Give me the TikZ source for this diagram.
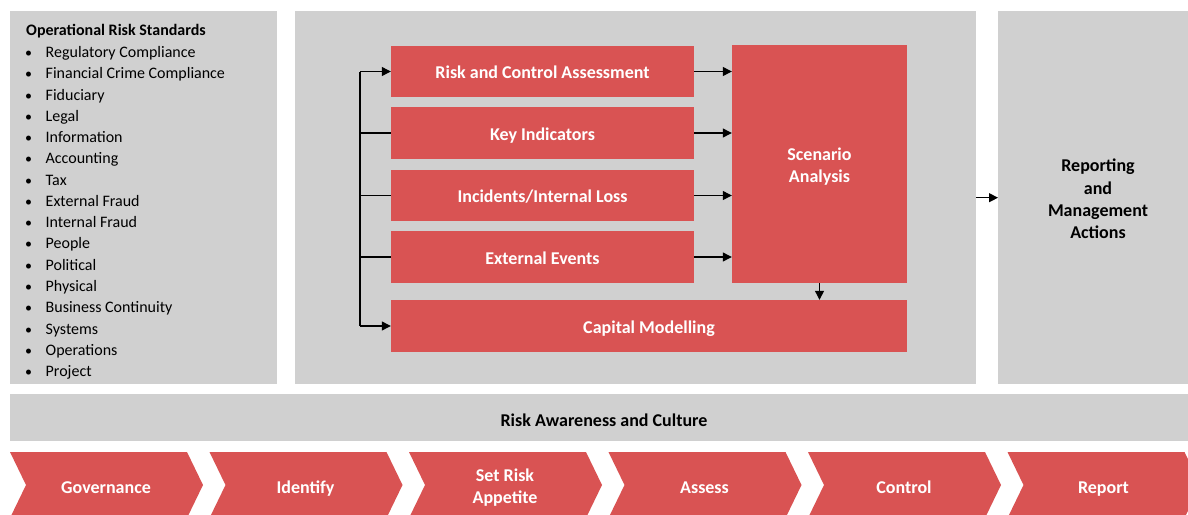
\documentclass[tikz,border=0pt]{standalone}
\usepackage{fontspec}
\setmainfont{Carlito}
\usetikzlibrary{arrows.meta}
\definecolor{rk}{RGB}{217,83,83}
\definecolor{pg}{RGB}{208,208,208}
\begin{document}
\begin{tikzpicture}[x=1pt,y=-1pt,
  panel/.style={fill=pg, draw=none, inner sep=0pt, anchor=north west},
  rbox/.style={fill=rk, text=white, inner sep=0pt, font=\bfseries\fontsize{18}{22}\selectfont, align=center},
  oneline/.style={text height=14.5pt, text depth=0.5pt},
  wtext/.style={text=white, inner sep=0pt, font=\bfseries\fontsize{18}{22}\selectfont, align=center},
  btext/.style={text=black, inner sep=0pt, font=\bfseries\fontsize{18}{22.3}\selectfont, align=center},
  arr/.style={-{Triangle[length=9pt,width=9pt]}, line width=1.2pt},
  ln/.style={line width=1.2pt},
  lst/.style={anchor=base west, inner sep=0pt, font=\fontsize{16}{20}\selectfont},
  chev/.style={fill=rk, draw=none}
]
\useasboundingbox (0,0) rectangle (1188,514);
\clip (0,0) rectangle (1188,514);
\fill[white] (0,0) rectangle (1188,514);

% panels
\node[panel, minimum width=267pt, minimum height=373pt] (std) at (10,11) {};
\node[panel, minimum width=681pt, minimum height=373pt] (mid) at (295,11) {};
\node[panel, minimum width=200pt, minimum height=373pt] (rep) at (998,11) {};
\node[panel, minimum width=1188pt, minimum height=47pt] (band) at (10,394) {};

% left list
\node[lst, font=\bfseries\fontsize{16}{20}\selectfont] (title) at (26,35) {Operational Risk Standards};
\foreach \t [count=\i] in {Regulatory Compliance, Financial Crime Compliance, Fiduciary, Legal, Information, Accounting, Tax, External Fraud, Internal Fraud, People, Political, Physical, Business Continuity, Systems, Operations, Project}{
  \node[lst, font=\fontsize{14}{20}\selectfont] (b\i) at (25,{57.5+21.27*(\i-1)}) {\textbullet};
  \node[lst] (it\i) at (45.5,{57.5+21.27*(\i-1)}) {\t};
}

% red boxes
\node[rbox, oneline, minimum width=303pt, minimum height=51pt] (rca) at (542.5,71.5) {Risk and Control Assessment};
\node[rbox, oneline, minimum width=303pt, minimum height=52pt] (ki) at (542.5,133) {Key Indicators};
\node[rbox, oneline, minimum width=303pt, minimum height=51pt] (inc) at (542.5,195.5) {Incidents/Internal Loss};
\node[rbox, oneline, minimum width=303pt, minimum height=52pt] (ext) at (542.5,257) {External Events};
\node[rbox, oneline, minimum width=516pt, minimum height=52pt] (cap) at (649,326) {Capital Modelling};
\node[rbox, minimum width=175pt, minimum height=238pt] (scen) at (819.5,164) {};
\node[wtext] (scentxt) at (819.5,166.5) {Scenario\\Analysis};

% bus on the left
\coordinate (bt) at (360,71.5);
\coordinate (bb) at (360,326);
\draw[ln] (bt) -- (bb);
\draw[arr] (bt) -- (rca.west);
\draw[ln] (ki.west) -- (ki.west -| bt);
\draw[ln] (inc.west) -- (inc.west -| bt);
\draw[ln] (ext.west) -- (ext.west -| bt);
\draw[arr] (bb) -- (cap.west);

% arrows to scenario analysis
\draw[arr] (rca.east) -- (rca.east -| scen.west);
\draw[arr] (ki.east) -- (ki.east -| scen.west);
\draw[arr] (inc.east) -- (inc.east -| scen.west);
\draw[arr] (ext.east) -- (ext.east -| scen.west);
\draw[arr] (scen.south) -- (scen.south |- cap.north);

% to reporting
\draw[arr] (mid.east |- rep.west) -- (rep.west);
\node[btext] (reptxt) at (1098,199) {Reporting\\and\\Management\\Actions};

% band
\node[btext, oneline] (bandtxt) at (604,419) {Risk Awareness and Culture};

% chevrons
\foreach \t/\o/\dy [count=\i] in {Governance/oneline/0, Identify/oneline/0, {Set Risk\\Appetite}/{}/1.5, Assess/oneline/0, Control/oneline/0, Report/oneline/0}{
  \pgfmathsetmacro{\L}{10+199.5*(\i-1)}
  \fill[chev] (\L,452) -- ({\L+177},452) -- ({\L+193},485) -- ({\L+177},518) -- (\L,518) -- ({\L+16},485) -- cycle;
  \node[wtext, \o] (ch\i) at ({\L+96},{486+\dy}) {\t};
}
\end{tikzpicture}
\end{document}
